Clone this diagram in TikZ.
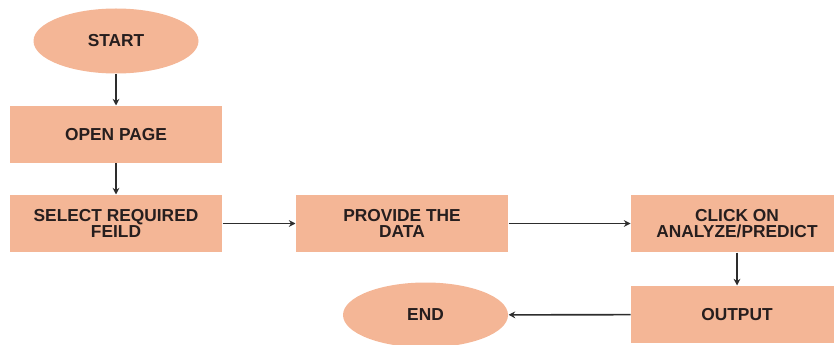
\documentclass[tikz,border=0pt]{standalone}
\usepackage{fontspec}
\setmainfont{Liberation Sans}
\usetikzlibrary{shapes.geometric,arrows.meta}

\definecolor{salmon}{RGB}{244,182,150}
\definecolor{inkdark}{RGB}{38,30,30}
\definecolor{linegray}{RGB}{45,45,45}

\tikzset{every picture/.style={line width=0.75pt}}
\tikzset{
  stepbox/.style={rectangle, fill=salmon, minimum width=159pt, minimum height=42.75pt, align=center, text=inkdark, font=\fontsize{13}{12.5}\selectfont\bfseries},
  termbox/.style={ellipse, fill=salmon, minimum width=123.75pt, minimum height=48.75pt, inner sep=0pt, text=inkdark, font=\fontsize{13}{12.5}\selectfont\bfseries},
  flow/.style={draw=linegray, line width=1.2pt, -{Stealth[length=5pt,width=5pt]}}
}

\begin{document}
\begin{tikzpicture}[x=0.75pt,y=0.75pt,yscale=-1,xscale=1]
	\useasboundingbox (0,0) rectangle (834,345);

	% Terminals
	\node [termbox] (start) at (116,41) {START};
	\node [termbox] (end) at (425.5,315) {END};

	% Steps
	\node [stepbox] (open) at (116,134.5) {OPEN PAGE};
	\node [stepbox] (select) at (116,223.5) {SELECT REQUIRED\\FEILD};
	\node [stepbox] (provide) at (402,223.5) {PROVIDE THE\\DATA};
	\node [stepbox] (click) at (737,223.5) {CLICK ON\\ANALYZE/PREDICT};
	\node [stepbox] (output) at (737,314.5) {OUTPUT};

	% Connectors
	\draw [flow] (start) -- (open);
	\draw [flow] (open) -- (select);
	\draw [flow] (select) -- (provide);
	\draw [flow] (provide) -- (click);
	\draw [flow] (click) -- (output);
	\draw [flow] (output) -- (end);

\end{tikzpicture}
\end{document}
